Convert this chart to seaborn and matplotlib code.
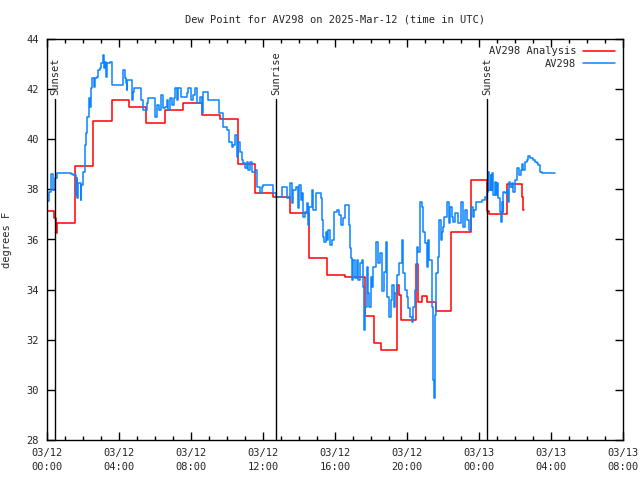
import numpy as np
import pandas as pd
import matplotlib
matplotlib.use("Agg")
import matplotlib.pyplot as plt
import matplotlib.dates as mdates
from matplotlib.ticker import MultipleLocator
import seaborn as sns

# ---- data (hours after 2025-03-12 00:00 UTC, dew point in F) ----
analysis_hours = [0.0, 0.41, 0.48, 0.57, 1.54, 2.57, 3.6, 4.55, 5.5, 6.55, 7.54, 8.6, 9.6,
                  10.6, 11.56, 12.54, 13.5, 14.56, 15.54, 16.56, 17.67, 18.19, 18.54,
                  19.43, 19.53, 19.67, 20.5, 20.6, 20.81, 21.13, 21.6, 22.43, 23.55,
                  24.43, 24.55, 25.57, 26.37, 26.42, 26.52]
analysis_vals = [37.15, 36.85, 36.26, 36.65, 38.93, 40.73, 41.57, 41.3, 40.65, 41.17, 41.43, 40.97, 40.8,
                 39.01, 37.87, 37.68, 37.04, 35.25, 34.58, 34.52, 32.95, 31.88, 31.59,
                 34.18, 33.78, 32.79, 35.02, 33.52, 33.76, 33.52, 33.15, 36.31, 38.37,
                 37.15, 37.02, 38.21, 37.68, 37.18, 37.18]

obs_hours = [0.0, 0.11, 0.2, 0.3, 0.35, 0.44, 0.54, 1.04, 1.31, 1.46, 1.59, 1.65, 1.69, 1.74, 1.87, 1.91,
             2.0, 2.09, 2.17, 2.24, 2.31, 2.37, 2.43, 2.52, 2.59, 2.67, 2.76, 2.83, 2.94, 3.02, 3.11,
             3.17, 3.24, 3.30, 3.35, 3.5, 3.59, 3.63, 4.19, 4.22, 4.33, 4.39, 4.43, 4.46, 4.69, 4.70,
             4.76, 4.83, 5.2, 5.24, 5.33, 5.5, 5.54, 5.63, 5.94, 6.02, 6.13, 6.24, 6.35, 6.43, 6.56,
             6.65, 6.72, 6.83, 6.96, 7.06, 7.11, 7.2, 7.3, 7.43, 7.57, 7.76, 7.85, 7.98, 8.09, 8.22,
             8.35, 8.5, 8.59, 8.69, 8.87, 8.96, 9.52, 9.57, 9.8, 9.98, 10.13, 10.26, 10.35, 10.44,
             10.54, 10.63, 10.72, 10.81, 10.91, 11.0, 11.09, 11.17, 11.28, 11.37, 11.56, 11.69, 11.83,
             11.93, 12.02, 12.48, 12.57, 12.72, 12.94, 13.04, 13.22, 13.31, 13.5, 13.59, 13.69, 13.83,
             13.93, 14.02, 14.09, 14.17, 14.24, 14.33, 14.43, 14.52, 14.57, 14.7, 14.8, 14.94, 15.13,
             15.22, 15.3, 15.35, 15.41, 15.5, 15.57, 15.63, 15.72, 15.85, 15.96, 16.09, 16.22, 16.33,
             16.43, 16.56, 16.69, 16.78, 16.83, 16.87, 16.93, 17.02, 17.11, 17.2, 17.3, 17.39, 17.48,
             17.54, 17.61, 17.67, 17.76, 17.85, 17.89, 17.98, 18.04, 18.13, 18.28, 18.41, 18.5, 18.63,
             18.72, 18.83, 18.91, 19.02, 19.11, 19.19, 19.28, 19.35, 19.46, 19.56, 19.7, 19.8, 19.89,
             19.98, 20.07, 20.17, 20.26, 20.35, 20.44, 20.54, 20.63, 20.72, 20.81, 20.91, 21.0, 21.09,
             21.15, 21.24, 21.37, 21.43, 21.46, 21.52, 21.57, 21.61, 21.7, 21.8, 21.87, 21.93, 21.98,
             22.06, 22.24, 22.33, 22.39, 22.48, 22.54, 22.67, 22.85, 22.98, 23.13, 23.22, 23.35, 23.46,
             23.54, 23.65, 23.72, 23.83, 24.15, 24.33, 24.43, 24.46, 24.52, 24.57, 24.65, 24.69, 24.72,
             24.8, 24.87, 24.94, 24.98, 25.04, 25.11, 25.17, 25.2, 25.26, 25.31, 25.35, 25.44, 25.54,
             25.59, 25.65, 25.72, 25.81, 25.91, 26.0, 26.13, 26.22, 26.31, 26.39, 26.46, 26.56, 26.65,
             26.7, 26.83, 27.02, 27.11, 27.2, 27.3, 27.39, 27.48, 28.22]
obs_vals = [37.54, 37.9, 38.6, 38.6, 37.97, 38.44, 38.67, 38.67, 38.6, 38.57, 37.77, 38.44, 37.64, 38.24, 37.58, 38.17,
            38.7, 39.77, 40.25, 40.9, 41.63, 41.3, 42.03, 42.43, 42.1, 42.43, 42.5, 42.76, 42.83, 43.03, 43.36,
            42.83, 43.1, 42.5, 43.03, 43.1, 42.83, 42.16, 42.16, 42.76, 42.43, 42.23, 41.96, 42.36, 42.36, 41.56,
            41.9, 42.03, 42.03, 41.56, 41.17, 41.17, 41.44, 41.63, 41.63, 40.9, 41.37, 41.17, 41.77, 41.23, 41.3,
            41.56, 41.17, 41.63, 41.37, 41.63, 42.03, 41.57, 42.03, 41.7, 41.7, 41.83, 42.03, 41.57, 41.76, 42.03,
            41.43, 41.7, 41.03, 41.9, 41.9, 41.57, 41.57, 41.03, 40.5, 40.37, 39.9, 39.7, 39.77, 40.17,
            39.3, 39.9, 39.5, 39.17, 39.04, 38.84, 39.1, 38.77, 39.1, 38.7, 38.77, 38.1, 37.84,
            38.1, 38.17, 38.17, 37.84, 37.71, 37.71, 38.11, 38.11, 37.64, 38.24, 37.45, 37.97, 38.11,
            37.25, 38.17, 37.58, 37.84, 36.91, 37.11, 37.44, 36.58, 37.31, 37.97, 37.17, 37.84, 37.84,
            37.64, 36.78, 36.11, 35.91, 36.31, 35.98, 36.38, 35.78, 35.98, 37.11, 37.17, 36.98, 36.58,
            36.85, 37.37, 37.37, 36.58, 35.65, 35.25, 34.38, 35.18, 34.45, 35.18, 34.38, 35.05, 35.18,
            34.12, 32.39, 33.32, 34.92, 33.85, 33.32, 34.52, 34.12, 34.92, 35.91, 35.05, 35.45, 33.95,
            34.72, 35.91, 33.72, 32.92, 33.58, 34.18, 33.32, 33.85, 34.58, 35.05, 35.98, 34.65, 33.98,
            33.72, 33.25, 32.92, 32.72, 33.32, 33.98, 35.71, 35.51, 37.51, 37.31, 36.31, 35.85, 34.92,
            35.98, 35.18, 33.32, 32.25, 30.39, 29.66, 33.0, 34.65, 35.31, 36.78, 35.98, 36.31, 36.51,
            36.91, 37.51, 36.65, 37.31, 36.91, 36.71, 37.04, 36.65, 37.51, 36.51, 37.18, 36.78, 36.38,
            37.31, 36.91, 37.18, 37.51, 37.58, 37.71, 37.84, 37.91, 38.7, 37.97, 38.57, 37.97, 38.64,
            37.77, 38.31, 37.77, 38.24, 37.64, 37.64, 37.11, 36.71, 37.51, 37.11, 37.91, 37.84, 37.97,
            37.51, 38.31, 38.11, 38.24, 37.91, 38.37, 38.84, 38.57, 38.77, 39.0, 38.77, 39.1, 39.17,
            39.33, 39.24, 39.17, 39.1, 39.04, 38.97, 38.7, 38.64, 38.64]

event_labels = ["Sunset", "Sunrise", "Sunset"]
event_hours = [0.45, 12.72, 24.44]

title = "Dew Point for AV298 on 2025-Mar-12 (time in UTC)"
ylabel = "degrees F"
series_names = ["AV298 Analysis", "AV298"]

# ---- build frames ----
base = pd.Timestamp("2025-03-12 00:00")
df_a = pd.DataFrame({"time": base + pd.to_timedelta(analysis_hours, unit="h"),
                     "value": analysis_vals})
df_o = pd.DataFrame({"time": base + pd.to_timedelta(obs_hours, unit="h"),
                     "value": obs_vals})

sns.set_style("white")
plt.rcParams["font.family"] = ["DejaVu Sans Mono"]
FS = 7.5

fig = plt.figure(figsize=(6.4, 4.8), dpi=100)
ax = fig.add_axes([47 / 640, 1 - 440 / 480, 576 / 640, 401 / 480])

red = "#ff0000"
blue = "#0a84ff"
sns.lineplot(data=df_a, x="time", y="value", ax=ax, color=red, lw=1.1,
             drawstyle="steps-post", estimator=None, sort=False, label=series_names[0])
sns.lineplot(data=df_o, x="time", y="value", ax=ax, color=blue, lw=1.1,
             drawstyle="steps-post", estimator=None, sort=False, label=series_names[1])

# event lines
for lab, h in zip(event_labels, event_hours):
    t = base + pd.Timedelta(hours=h)
    ax.plot([t, t], [28, 41.6], color="black", lw=1.0)
    ax.text(t, 41.75, lab, rotation=90, ha="center", va="bottom", fontsize=FS)

ax.set_xlim(base, base + pd.Timedelta(hours=32))
ax.set_ylim(28, 44)
ax.yaxis.set_major_locator(MultipleLocator(2))
ax.xaxis.set_major_locator(mdates.HourLocator(byhour=[0, 4, 8, 12, 16, 20]))
ax.xaxis.set_minor_locator(mdates.HourLocator())
ax.xaxis.set_major_formatter(mdates.DateFormatter("%m/%d\n%H:%M"))

ax.tick_params(axis="both", which="major", direction="in", length=6, width=1,
               bottom=True, left=True, top=True, right=True, labelsize=FS, pad=6,
               color="black")
ax.tick_params(axis="x", which="minor", direction="in", length=3, width=1,
               top=True, bottom=True, color="black")
for lbl in ax.get_xticklabels():
    lbl.set_linespacing(1.5)
for s in ax.spines.values():
    s.set_color("black")
    s.set_linewidth(1.0)

ax.set_xlabel("")
ax.set_ylabel(ylabel, fontsize=FS, labelpad=10)
fig.text(335 / 640, 1 - 20 / 480, title, ha="center", va="center", fontsize=FS)

leg = ax.legend(loc="upper right", bbox_to_anchor=(0.998, 1.0), frameon=False,
                markerfirst=False, fontsize=FS, handlelength=3.0,
                labelspacing=0.25, handletextpad=0.7, borderaxespad=0.3)

fig.savefig("out.png", dpi=100)
